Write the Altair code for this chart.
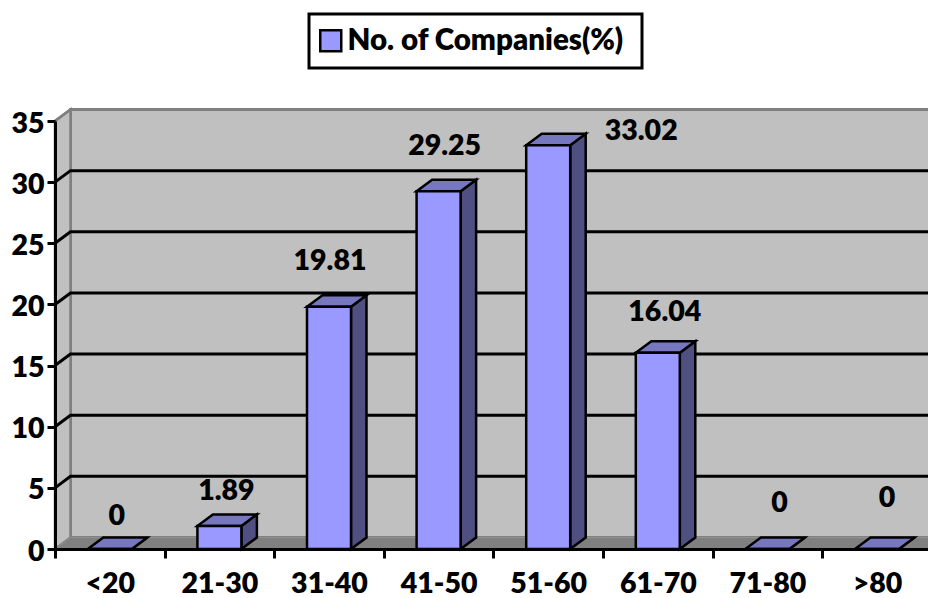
import json
import altair as alt
import pandas as pd

categories = ["<20", "21-30", "31-40", "41-50", "51-60", "61-70", "71-80", ">80"]
values = [0, 1.89, 19.81, 29.25, 33.02, 16.04, 0, 0]
value_labels = ["0", "1.89", "19.81", "29.25", "33.02", "16.04", "0", "0"]
label_nudge_x_px = [7, 7, 1, 6, 93, 7, 12, 10]
label_nudge_y_px = [33, 35, 46, 45, 14, 41, 46, 51]
y_ticks = [0, 5, 10, 15, 20, 25, 30, 35]
series_name = "No. of Companies(%)"

FONT = "Lato"
FS = 28.5
WEIGHT = 800
PLOT_W, PLOT_H = 873, 428
CAT_PX = 109.6
X_MAX = PLOT_W / CAT_PX
Y_MAX = 35
UNIT_PX = PLOT_H / Y_MAX
DX = 15.5 / CAT_PX
DY = 11.5 / UNIT_PX
BAR_W = 44 / CAT_PX
N = len(categories)

x_scale = alt.Scale(domain=[0, X_MAX], nice=False, zero=False)
y_scale = alt.Scale(domain=[0, Y_MAX], nice=False, zero=False)
X = alt.X("x:Q", scale=x_scale, title=None,
          axis=alt.Axis(values=list(range(N + 1)), grid=False, tickSize=9, tickWidth=3, tickColor="black",
                        domainWidth=3, domainColor="black", labelOffset=CAT_PX / 2, labelPadding=11,
                        labelExpr=json.dumps(categories) + "[datum.value] || ''",
                        labelFont=FONT, labelFontSize=FS, labelFontWeight=WEIGHT, labelColor="black",
                        labelBaseline="top", labelFlush=False, labelOverlap=False, zindex=3))
Y = alt.Y("y:Q", scale=y_scale, title=None,
          axis=alt.Axis(values=y_ticks, grid=False, tickSize=8, tickWidth=3, tickColor="black",
                        domainWidth=3, domainColor="black", labelPadding=3, labelOffset=2,
                        labelFont=FONT, labelFontSize=FS, labelFontWeight=WEIGHT, labelColor="black",
                        labelFlush=False, labelOverlap=False, zindex=3))
Y2 = alt.Y2("y2:Q")
X2 = alt.X2("x2:Q")

# Room walls and floor
back = alt.Chart(pd.DataFrame({"x": [DX], "x2": [X_MAX + 1], "y": [DY], "y2": [Y_MAX + DY]})).mark_rect(
    fill="#c0c0c0", stroke="#808080", strokeWidth=3
).encode(x=X, x2=X2, y=Y, y2=Y2)
side = alt.Chart(pd.DataFrame({"x": [0, DX], "y": [0, DY], "y2": [Y_MAX, Y_MAX + DY]})).mark_area(
    orient="vertical", fill="#c0c0c0", stroke="#808080", strokeWidth=2.5, clip=False
).encode(x=X, y=Y, y2=Y2)
floor = alt.Chart(pd.DataFrame({"y": [0, DY], "x": [0, DX], "x2": [N, N + DX]})).mark_area(
    orient="horizontal", fill="#808080", stroke="#909090", strokeWidth=1
).encode(y=Y, x=X, x2=X2)

# Heavy frame behind the legend
legend_frame = alt.Chart(pd.DataFrame({
    "x": [254 / CAT_PX], "x2": [587 / CAT_PX], "y": [481 / UNIT_PX], "y2": [535 / UNIT_PX]
})).mark_rect(fill="white", stroke="black", strokeWidth=3).encode(x=X, x2=X2, y=Y, y2=Y2)

# Gridlines: back wall plus the slanted part on the side wall
grid_rows = []
for v in y_ticks[1:-1]:
    grid_rows += [{"g": v, "x": 0, "y": v}, {"g": v, "x": DX, "y": v + DY}, {"g": v, "x": X_MAX + 1, "y": v + DY}]
grid = alt.Chart(pd.DataFrame(grid_rows)).mark_line(color="black", strokeWidth=3).encode(x=X, y=Y, detail="g:N")
top_slant = alt.Chart(pd.DataFrame({"x": [0, DX], "y": [Y_MAX, Y_MAX + DY]})).mark_line(
    color="#808080", strokeWidth=2.5).encode(x=X, y=Y)

# 3-D bars
side_rows, top_rows, front_rows, label_rows = [], [], [], []
for i, (c, v) in enumerate(zip(categories, values)):
    x0 = i + 0.5 - BAR_W / 2
    x1 = i + 0.5 + BAR_W / 2
    side_rows += [{"c": c, "x": x1, "y": 0, "y2": v}, {"c": c, "x": x1 + DX, "y": DY, "y2": v + DY}]
    top_rows += [{"c": c, "y": v, "x": x0, "x2": x1}, {"c": c, "y": v + DY, "x": x0 + DX, "x2": x1 + DX}]
    front_rows.append({"c": c, "x": x0, "x2": x1, "y": 0, "y2": v, "s": series_name})
    label_rows.append({"x": i + 0.5 + label_nudge_x_px[i] / CAT_PX,
                       "y": v + label_nudge_y_px[i] / UNIT_PX, "t": value_labels[i]})

bar_side = alt.Chart(pd.DataFrame(side_rows)).mark_area(
    orient="vertical", fill="#4f4f82", stroke="black", strokeWidth=2.5, strokeJoin="miter"
).encode(x=X, y=Y, y2=Y2, detail="c:N")
bar_top = alt.Chart(pd.DataFrame(top_rows)).mark_area(
    orient="horizontal", fill="#7777c0", stroke="black", strokeWidth=2.5, strokeJoin="miter"
).encode(y=Y, x=X, x2=X2, detail="c:N")
bar_front = alt.Chart(pd.DataFrame(front_rows)).mark_rect(stroke="black", strokeWidth=2.5).encode(
    x=X, x2=X2, y=Y, y2=Y2,
    fill=alt.Fill("s:N", scale=alt.Scale(domain=[series_name], range=["#9999ff"]),
                  legend=alt.Legend(title=None, orient="none", legendX=254, legendY=-107, padding=12,
                                    symbolType="square", symbolSize=441, symbolStrokeColor="black",
                                    symbolStrokeWidth=2.5, symbolOpacity=1, symbolOffset=-5,
                                    labelFont=FONT, labelFontSize=29.5, labelFontWeight=WEIGHT, labelColor="black",
                                    labelLimit=400, labelOffset=2)),
)
labels = alt.Chart(pd.DataFrame(label_rows)).mark_text(
    font=FONT, fontSize=FS, fontWeight=WEIGHT, color="black", baseline="middle", align="center"
).encode(x=X, y=Y, text="t:N")

chart = alt.layer(back, side, floor, legend_frame, grid, top_slant, bar_side, bar_top, bar_front, labels).properties(
    width=PLOT_W, height=PLOT_H,
    autosize=alt.AutoSizeParams(type="none", contains="content"),
    padding={"left": 47, "top": 113, "right": 0, "bottom": 49},
).configure_view(stroke=None).configure(background="white")

chart.save("out.html", embed_options={"renderer": "svg", "actions": False})
